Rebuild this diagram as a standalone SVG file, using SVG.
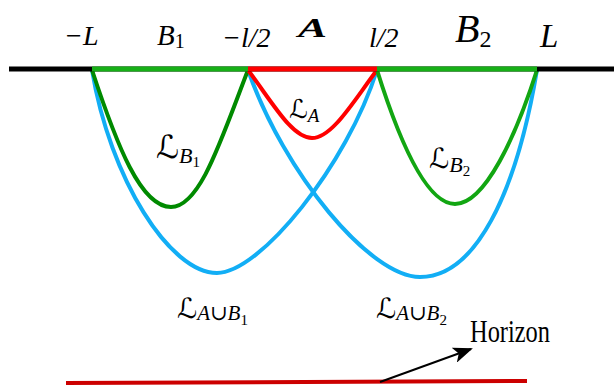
<svg xmlns="http://www.w3.org/2000/svg" width="614" height="387" viewBox="0 0 614 387">
<defs>
<style>
.c{fill:none;stroke-width:4;stroke-linecap:round}
.blue{stroke:#12aef5}
.g1{stroke:#008a00}
.g2{stroke:#12a612}
.red{stroke:#ff0000}
.t{font-family:"Liberation Serif","DejaVu Serif",serif;font-style:italic;fill:#000}
.up{font-style:normal}
.sc{font-family:"DejaVu Serif","DejaVu Sans",serif;font-style:normal}
</style>
<marker id="ah" markerWidth="20" markerHeight="16" refX="18" refY="8" orient="auto" markerUnits="userSpaceOnUse">
<path d="M0,0 L20,8 L0,16 L5,8 Z" fill="#000"/>
</marker>
</defs>
<rect width="614" height="387" fill="#fff"/>
<g id="connectors">
<path id="LAuB1" class="c blue" d="M92,70 C110,179 170,273 217,273 C260,273 347,165 377,70"/>
<path id="LAuB2" class="c blue" d="M248,70 C284,173 370,277 420,277 C475,277 516,195 537,70"/>
<path id="LB1" class="c g1" d="M92,70 C117,146 141,207 171,207 C200,207 221,140 248,70"/>
<path id="LA" class="c red" d="M248,70 C272,102 292,138 312,138 C332,138 353,102 377,70"/>
<path id="LB2" class="c g2" d="M377,70 C398,137 426,204 455,204 C485,204 516,136 537,70"/>
</g>
<g id="boundary">
<line x1="9" y1="69" x2="614" y2="69" stroke="#000" stroke-width="5"/>
<line x1="92" y1="69" x2="248" y2="69" stroke="#17b017" stroke-width="5"/>
<line x1="248" y1="69" x2="377" y2="69" stroke="#ff0000" stroke-width="5"/>
<line x1="377" y1="69" x2="537" y2="69" stroke="#17b017" stroke-width="5"/>
</g>
<g id="labels-top">
<text class="t" x="64" y="45" font-size="28">−L</text>
<text class="t" x="157" y="45" font-size="29">B<tspan class="up" font-size="20" dy="3">1</tspan></text>
<text class="t" x="222" y="47" font-size="28">−l/2</text>
<text class="t" x="298" y="37" font-size="28" font-weight="bold" textLength="29" lengthAdjust="spacingAndGlyphs">A</text>
<text class="t" x="369" y="47" font-size="28">l/2</text>
<text class="t" x="455" y="42" font-size="40">B<tspan class="up" font-size="24" dy="5">2</tspan></text>
<text class="t" x="540" y="47" font-size="33">L</text>
</g>
<g id="node-LA">
<text class="t" x="289" y="118" font-size="26"><tspan class="sc">ℒ</tspan><tspan font-size="19" dy="4">A</tspan></text>
</g>
<g id="node-LB1">
<text class="t" x="156" y="158" font-size="32"><tspan class="sc">ℒ</tspan><tspan font-size="22" dy="5">B</tspan><tspan class="up" font-size="15" dy="4">1</tspan></text>
</g>
<g id="node-LB2">
<text class="t" x="429" y="168" font-size="28"><tspan class="sc">ℒ</tspan><tspan font-size="22" dy="4">B</tspan><tspan class="up" font-size="15" dy="4">2</tspan></text>
</g>
<g id="node-LAuB1">
<text class="t" x="177" y="318" font-size="28"><tspan class="sc">ℒ</tspan><tspan font-size="21" dy="2">A<tspan class="up">∪</tspan>B</tspan><tspan class="up" font-size="15" dy="5">1</tspan></text>
</g>
<g id="node-LAuB2">
<text class="t" x="376" y="318" font-size="28"><tspan class="sc">ℒ</tspan><tspan font-size="21" dy="2">A<tspan class="up">∪</tspan>B</tspan><tspan class="up" font-size="15" dy="5">2</tspan></text>
</g>
<g id="horizon">
<line x1="66" y1="383" x2="527" y2="381" stroke="#cc0000" stroke-width="4"/>
<line x1="380" y1="382" x2="471" y2="349" stroke="#000" stroke-width="2" marker-end="url(#ah)"/>
<text class="t up" x="470" y="342" font-size="31" textLength="80" lengthAdjust="spacingAndGlyphs">Horizon</text>
</g>
</svg>
